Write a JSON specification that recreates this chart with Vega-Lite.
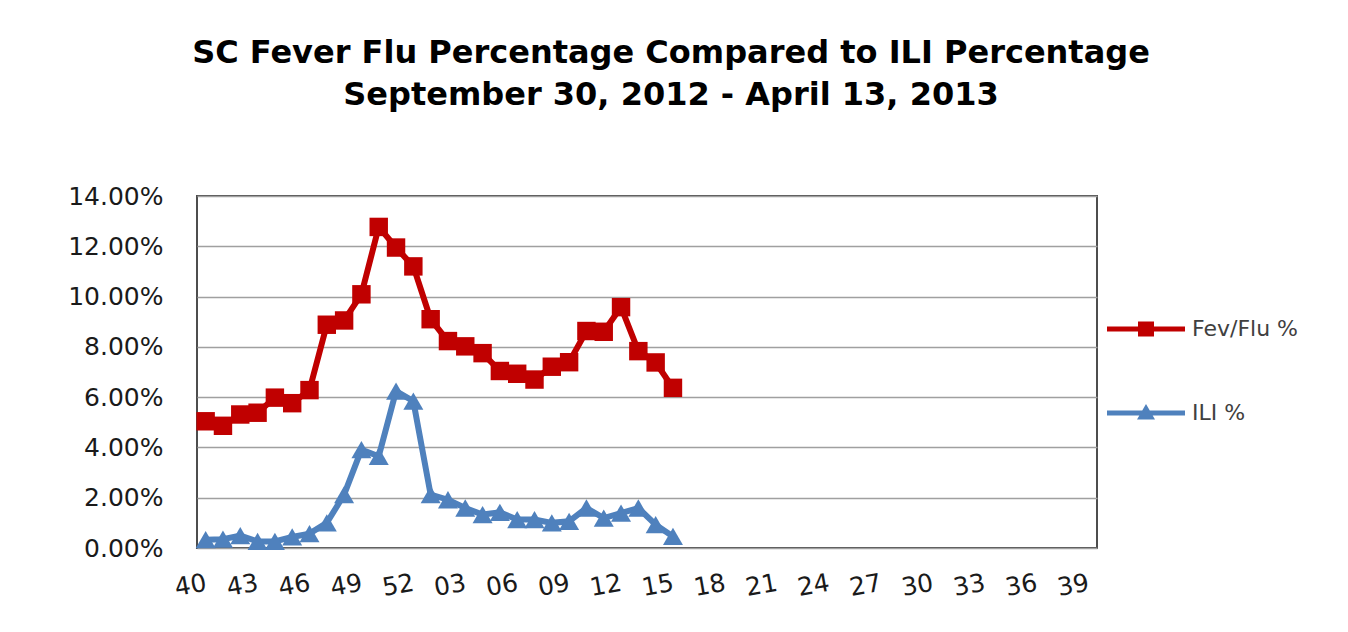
{
  "$schema": "https://vega.github.io/schema/vega-lite/v6.json",
  "autosize": {"type": "none"},
  "width": 900,
  "height": 352,
  "padding": {"left": 197, "top": 196, "right": 251, "bottom": 84},
  "background": "white",
  "title": {
    "text": ["SC Fever Flu Percentage Compared to ILI Percentage", "September 30, 2012 - April 13, 2013"],
    "font": "DejaVu Sans",
    "fontSize": 32,
    "fontWeight": "bold",
    "color": "#000000",
    "anchor": "middle",
    "frame": "group",
    "dx": 24,
    "offset": 72,
    "lineHeight": 42
  },
  "data": {
    "values": [
      {"week": "40", "series": "Fev/Flu %", "pct": 5.04},
      {"week": "41", "series": "Fev/Flu %", "pct": 4.86},
      {"week": "42", "series": "Fev/Flu %", "pct": 5.31},
      {"week": "43", "series": "Fev/Flu %", "pct": 5.38},
      {"week": "44", "series": "Fev/Flu %", "pct": 5.98},
      {"week": "45", "series": "Fev/Flu %", "pct": 5.76},
      {"week": "46", "series": "Fev/Flu %", "pct": 6.28},
      {"week": "47", "series": "Fev/Flu %", "pct": 8.88},
      {"week": "48", "series": "Fev/Flu %", "pct": 9.05},
      {"week": "49", "series": "Fev/Flu %", "pct": 10.09},
      {"week": "50", "series": "Fev/Flu %", "pct": 12.77},
      {"week": "51", "series": "Fev/Flu %", "pct": 11.95},
      {"week": "52", "series": "Fev/Flu %", "pct": 11.2},
      {"week": "01", "series": "Fev/Flu %", "pct": 9.1},
      {"week": "02", "series": "Fev/Flu %", "pct": 8.23},
      {"week": "03", "series": "Fev/Flu %", "pct": 8.02},
      {"week": "04", "series": "Fev/Flu %", "pct": 7.75},
      {"week": "05", "series": "Fev/Flu %", "pct": 7.04},
      {"week": "06", "series": "Fev/Flu %", "pct": 6.93},
      {"week": "07", "series": "Fev/Flu %", "pct": 6.7},
      {"week": "08", "series": "Fev/Flu %", "pct": 7.21},
      {"week": "09", "series": "Fev/Flu %", "pct": 7.39},
      {"week": "10", "series": "Fev/Flu %", "pct": 8.63},
      {"week": "11", "series": "Fev/Flu %", "pct": 8.6},
      {"week": "12", "series": "Fev/Flu %", "pct": 9.58},
      {"week": "13", "series": "Fev/Flu %", "pct": 7.83},
      {"week": "14", "series": "Fev/Flu %", "pct": 7.38},
      {"week": "15", "series": "Fev/Flu %", "pct": 6.37},
      {"week": "40", "series": "ILI %", "pct": 0.33},
      {"week": "41", "series": "ILI %", "pct": 0.35},
      {"week": "42", "series": "ILI %", "pct": 0.49},
      {"week": "43", "series": "ILI %", "pct": 0.26},
      {"week": "44", "series": "ILI %", "pct": 0.26},
      {"week": "45", "series": "ILI %", "pct": 0.44},
      {"week": "46", "series": "ILI %", "pct": 0.57},
      {"week": "47", "series": "ILI %", "pct": 1.0},
      {"week": "48", "series": "ILI %", "pct": 2.12},
      {"week": "49", "series": "ILI %", "pct": 3.91},
      {"week": "50", "series": "ILI %", "pct": 3.65},
      {"week": "51", "series": "ILI %", "pct": 6.24},
      {"week": "52", "series": "ILI %", "pct": 5.84},
      {"week": "01", "series": "ILI %", "pct": 2.12},
      {"week": "02", "series": "ILI %", "pct": 1.92},
      {"week": "03", "series": "ILI %", "pct": 1.59},
      {"week": "04", "series": "ILI %", "pct": 1.33},
      {"week": "05", "series": "ILI %", "pct": 1.42},
      {"week": "06", "series": "ILI %", "pct": 1.13},
      {"week": "07", "series": "ILI %", "pct": 1.13},
      {"week": "08", "series": "ILI %", "pct": 1.0},
      {"week": "09", "series": "ILI %", "pct": 1.06},
      {"week": "10", "series": "ILI %", "pct": 1.59},
      {"week": "11", "series": "ILI %", "pct": 1.19},
      {"week": "12", "series": "ILI %", "pct": 1.39},
      {"week": "13", "series": "ILI %", "pct": 1.59},
      {"week": "14", "series": "ILI %", "pct": 0.93},
      {"week": "15", "series": "ILI %", "pct": 0.46}
    ]
  },
  "encoding": {
    "x": {
      "field": "week",
      "type": "ordinal",
      "sort": null,
      "scale": {
        "type": "point",
        "padding": 0.5,
        "domain": ["40","41","42","43","44","45","46","47","48","49","50","51","52","01","02","03","04","05","06","07","08","09","10","11","12","13","14","15","16","17","18","19","20","21","22","23","24","25","26","27","28","29","30","31","32","33","34","35","36","37","38","39"]
      },
      "axis": {
        "title": null,
        "values": ["40","43","46","49","52","03","06","09","12","15","18","21","24","27","30","33","36","39"],
        "labelAngle": -10,
        "labelAlign": "right",
        "labelBaseline": "middle",
        "labelPadding": 34,
        "labelFont": "DejaVu Sans",
        "labelFontSize": 25,
        "labelColor": "#1a1a1a",
        "ticks": false,
        "domain": false,
        "grid": false,
        "labelOverlap": false
      }
    },
    "y": {
      "field": "pct",
      "type": "quantitative",
      "scale": {"domain": [0, 14], "nice": false},
      "axis": {
        "title": null,
        "values": [0, 2, 4, 6, 8, 10, 12, 14],
        "labelExpr": "format(datum.value, '.2f') + '%'",
        "labelFont": "DejaVu Sans",
        "labelFontSize": 25,
        "labelColor": "#1a1a1a",
        "labelPadding": 34,
        "ticks": false,
        "domain": false,
        "grid": true,
        "gridColor": "#a0a0a0",
        "gridWidth": 1.5
      }
    },
    "color": {
      "field": "series",
      "type": "nominal",
      "scale": {"domain": ["Fev/Flu %", "ILI %"], "range": ["#c00000", "#4f81bd"]},
      "legend": {
        "title": null,
        "orient": "none",
        "legendX": 929,
        "legendY": 113,
        "padding": 0,
        "symbolSize": 1600,
        "symbolStrokeWidth": 0,
        "labelOffset": 26,
        "rowPadding": 53,
        "labelFont": "DejaVu Sans",
        "labelFontSize": 22,
        "labelColor": "#404040",
        "encode": {
          "symbols": {
            "update": {
              "shape": {"signal": "datum.value === 'ILI %' ? 'M-1.95,-0.13L1.95,-0.13L1.95,0.13L-1.95,0.13Z M0,-0.45L0.45,0.32L-0.45,0.32Z' : 'M-1.95,-0.13L1.95,-0.13L1.95,0.13L-1.95,0.13Z M-0.4,-0.38L0.4,-0.38L0.4,0.38L-0.4,0.38Z'"},
              "size": {"value": 1600},
              "fill": {"scale": "color", "field": "value"},
              "stroke": {"value": "transparent"},
              "strokeWidth": {"value": 0},
              "opacity": {"value": 1},
              "fillOpacity": {"value": 1}
            }
          }
        }
      }
    }
  },
  "layer": [
    {
      "mark": {"type": "line", "strokeWidth": 6}
    },
    {
      "transform": [{"filter": "datum.series === 'Fev/Flu %'"}],
      "mark": {"type": "point", "filled": true, "opacity": 1, "strokeWidth": 0, "shape": "square", "size": 340}
    },
    {
      "transform": [{"filter": "datum.series === 'ILI %'"}],
      "mark": {"type": "point", "filled": true, "opacity": 1, "strokeWidth": 0, "shape": "triangle-up", "size": 400}
    }
  ],
  "config": {
    "view": {"stroke": "#4d4d4d", "strokeWidth": 2}
  }
}
